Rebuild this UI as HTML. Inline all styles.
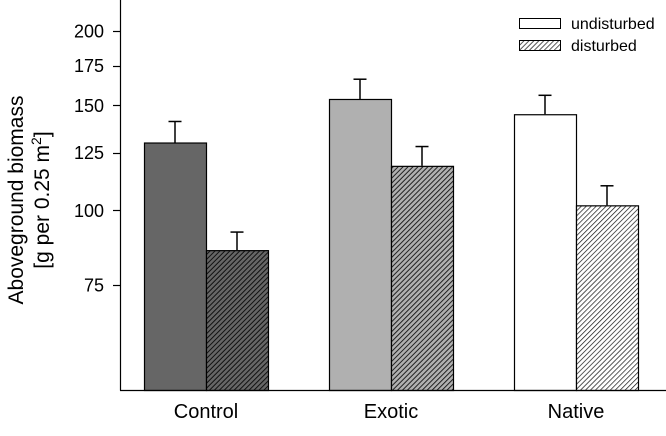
<!DOCTYPE html>
<html><head><meta charset="utf-8"><style>
body{margin:0;background:#fff}
svg{display:block;font-family:"Liberation Sans",Arial,sans-serif}
</style></head><body>
<svg id="chart" width="666" height="436" viewBox="0 0 666 436">
<defs>
<pattern id="h1" width="3.5" height="3.5" patternUnits="userSpaceOnUse" patternTransform="rotate(45)"><rect width="3.5" height="3.5" fill="#666"/><line x1="0" y1="0" x2="0" y2="3.5" stroke="#111" stroke-width="2"/></pattern>
<pattern id="h2" width="3.5" height="3.5" patternUnits="userSpaceOnUse" patternTransform="rotate(45)"><rect width="3.5" height="3.5" fill="#b0b0b0"/><line x1="0" y1="0" x2="0" y2="3.5" stroke="#111" stroke-width="1.8"/></pattern>
<pattern id="h3" width="3.5" height="3.5" patternUnits="userSpaceOnUse" patternTransform="rotate(45)"><rect width="3.5" height="3.5" fill="#fff"/><line x1="0" y1="0" x2="0" y2="3.5" stroke="#111" stroke-width="1.4"/></pattern>
</defs>
<g id="marks"></g>
<text x="0" y="0" transform="translate(23,200) rotate(-90)" text-anchor="middle" font-size="21">Aboveground biomass</text>
<text x="0" y="0" transform="translate(49,200) rotate(-90)" text-anchor="middle" font-size="21">[g per 0.25 m<tspan dy="-8" font-size="14">2</tspan><tspan dy="8">]</tspan></text>
<g>
<rect x="519.5" y="18.5" width="41" height="10" fill="#fff" stroke="#000"/>
<text x="571" y="29" font-size="16">undisturbed</text>
<rect x="519.5" y="40.5" width="41" height="10" fill="url(#h3)" stroke="#000"/>
<text x="571" y="51" font-size="16">disturbed</text>
</g>
</svg>
<script>
const categories=["Control","Exotic","Native"];
const undisturbed=[130,153.8,145];
const undisturbedErr=[141,166,156];
const disturbed=[85.8,118.8,102];
const disturbedErr=[92,128,110];
const yTicks=[75,100,125,150,175,200];

const NS="http://www.w3.org/2000/svg";
const g=document.getElementById('marks');
const y0=390,k=259,vmin=50;
function y(v){return y0-k*Math.log(v/vmin);}
function x(i){return 206+i*185;}
const fills=["#666","#b0b0b0","#fff"],hatch=["url(#h1)","url(#h2)","url(#h3)"];
function mk(t,a){const e=document.createElementNS(NS,t);for(const n in a)e.setAttribute(n,a[n]);g.appendChild(e);return e;}
const bw=62;
categories.forEach((c,i)=>{
  const cx=x(i);
  [[undisturbed[i],undisturbedErr[i],cx-bw,fills[i],'undisturbed'],[disturbed[i],disturbedErr[i],cx,hatch[i],'disturbed']].forEach(d=>{
    const ex=d[2]+bw/2;
    const el=mk('line',{x1:ex,x2:ex,y1:y(d[1]),y2:y(d[0]),stroke:'#000','stroke-width':1.5});
    
    
    const cap=mk('line',{x1:ex-6.5,x2:ex+6.5,y1:y(d[1]),y2:y(d[1]),stroke:'#000','stroke-width':1.5});
    
    
    const r=mk('rect',{x:d[2]+0.5,y:y(d[0])+0.5,width:bw,height:y0-y(d[0]),fill:d[3],stroke:'#000','stroke-width':1.2});
    
    
  });
  const t=mk('text',{x:cx,y:418,'text-anchor':'middle','font-size':20});
  t.textContent=c;
  
  
});
const ax=mk('line',{x1:120.5,x2:120.5,y1:0,y2:390.5,stroke:'#000','stroke-width':1.2});


const bx=mk('line',{x1:120,x2:666,y1:390.5,y2:390.5,stroke:'#000','stroke-width':1.2});


yTicks.forEach(v=>{
  const tk=mk('line',{x1:113,x2:120,y1:Math.round(y(v))+0.5,y2:Math.round(y(v))+0.5,stroke:'#000','stroke-width':1.2});
  
  
  const t=mk('text',{x:104,y:y(v)+6.5,'text-anchor':'end','font-size':18});
  t.textContent=v;
  
  
});
</script>
</body></html>
